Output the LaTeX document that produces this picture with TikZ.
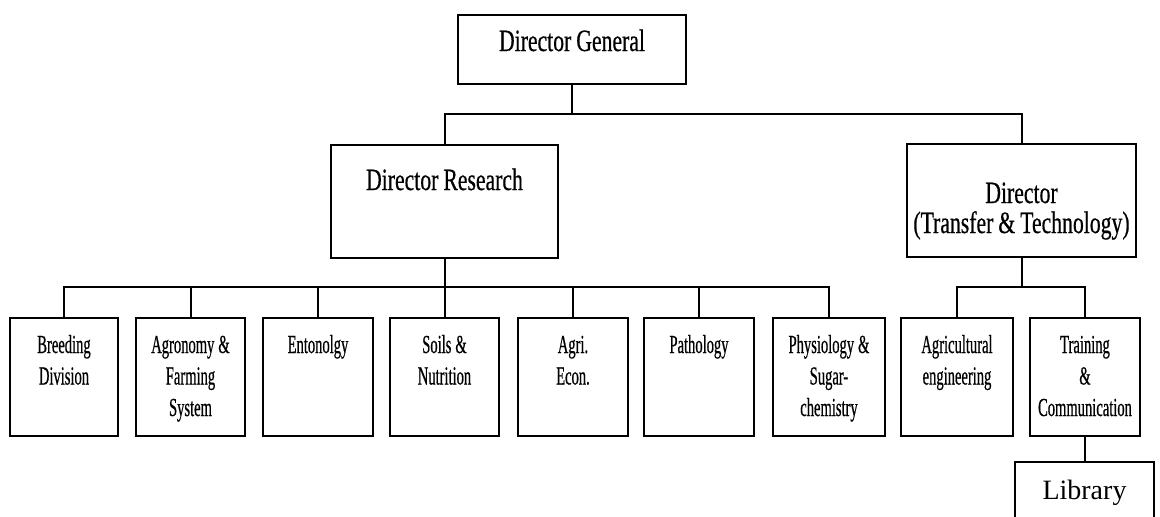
\documentclass[tikz,border=0pt]{standalone}
\usepackage{fontspec}
\setmainfont{Liberation Serif}
\newfontfamily\headfont[FakeStretch=0.7,FakeBold=0.5]{Liberation Serif}
\newfontfamily\unitfont[FakeStretch=0.56,FakeBold=0.5]{Liberation Serif}
\begin{document}
\begin{tikzpicture}[x=1pt,y=-1pt,
  box/.style={draw, line width=2pt, inner sep=0pt, align=center, anchor=north west},
  headbox/.style={box, font=\headfont\fontsize{31}{30}\selectfont,
    execute at begin node={\spaceskip=5pt\relax}},
  unitbox/.style={box, text width=#1, text height=35pt, text depth=83pt,
    font=\unitfont\fontsize{26}{31.5}\selectfont,
    execute at begin node={\spaceskip=4pt\relax}},
  link/.style={line width=2pt}]
\useasboundingbox (0,0) rectangle (1160,517);
\clip (0,0) rectangle (1160,517);

% top level
\node[headbox, text width=228pt, text height=36pt, text depth=33pt] (dg) at (457,14) {Director General};

% second level
\node[headbox, text width=227pt, text height=45pt, text depth=68pt] (dr) at (330,144) {Director Research};
\node[headbox, text width=229pt, text height=59pt, text depth=54pt] (dtt) at (906,143) {Director\\(Transfer \& Technology)};

% research divisions
\node[unitbox=108pt] (bre) at (9,317)   {Breeding\\Division};
\node[unitbox=109pt] (agr) at (135,317) {Agronomy \&\\Farming\\System};
\node[unitbox=110pt] (ent) at (262,317) {Entonolgy};
\node[unitbox=109pt] (soi) at (389,317) {Soils \&\\Nutrition};
\node[unitbox=110pt] (eco) at (517,317) {Agri.\\Econ.};
\node[unitbox=110pt] (pat) at (643,317) {Pathology};
\node[unitbox=112pt] (phy) at (772,317) {Physiology \&\\Sugar-\\chemistry};

% transfer divisions
\node[unitbox=112pt] (eng) at (900,317)  {Agricultural\\engineering};
\node[unitbox=110pt] (trc) at (1029,317) {Training\\\&\\Communication};

% library
\node[box, text width=139pt, text height=37pt, text depth=45pt,
  font=\fontsize{28}{30}\selectfont] (lib) at (1014,461) {Library};

% junction points of the buses
\coordinate (j1) at (571,114);
\coordinate (j2) at (443.5,287);
\coordinate (j3) at (1020.5,287);

% director general to directors
\draw[link] (dg.south) -- (dg.south |- j1);
\draw[link] (dr.north) |- (j1) -| (dtt.north);

% director research to divisions
\draw[link] (dr.south) -- (dr.south |- j2);
\draw[link] (bre.north) |- (j2) -| (phy.north);
\foreach \n in {agr,ent,soi,eco,pat}
  \draw[link] (\n.north) -- (\n.north |- j2);

% transfer director to divisions
\draw[link] (dtt.south) -- (dtt.south |- j3);
\draw[link] (eng.north) |- (j3) -| (trc.north);

% training to library
\draw[link] (trc.south) -- (trc.south |- lib.north);
\end{tikzpicture}
\end{document}
